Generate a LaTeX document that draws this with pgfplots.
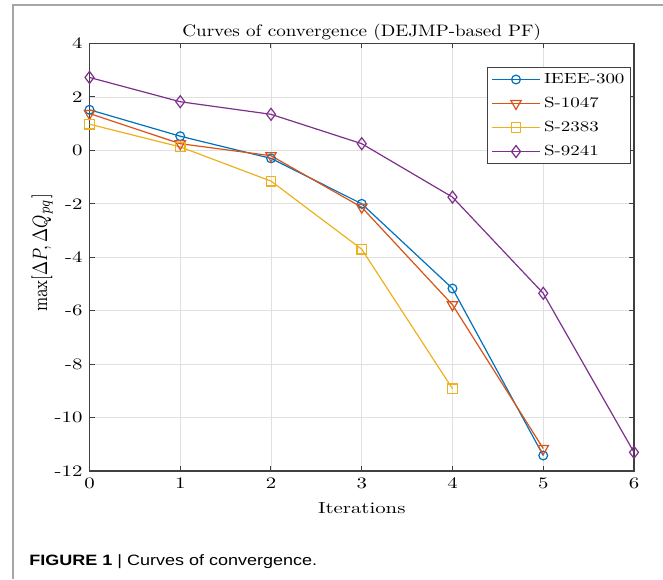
\documentclass[border=0pt]{standalone}
\usepackage[no-math]{fontspec}
\usepackage{pgfplots}
\pgfplotsset{compat=1.18}
% the reference is stretched sideways, so the fonts are too
\setmainfont{lmroman10-regular.otf}[FakeStretch=1.3,
    BoldFont=lmroman10-bold.otf, ItalicFont=lmroman10-italic.otf]
\newfontfamily\titlefont{lmroman10-regular.otf}[FakeStretch=1.15]
\newfontfamily\capfont{Liberation Sans}[FakeStretch=1.2]

% MATLAB default line colours
\definecolor{mblue}{rgb}{0,0.447,0.741}
\definecolor{morange}{rgb}{0.85,0.325,0.098}
\definecolor{myellow}{rgb}{0.929,0.694,0.125}
\definecolor{mpurple}{rgb}{0.494,0.184,0.556}

\begin{document}
\begin{tikzpicture}
\useasboundingbox (0,0) rectangle (331.5pt,289.5pt);
\draw[black!35, line width=1pt] (6.35pt,0) -- (6.35pt,287pt) -- (331.5pt,287pt);
\begin{axis}[
    at={(44.75pt,54pt)}, anchor=south west,
    scale only axis,
    width=272.25pt, height=213.75pt,
    xmin=0, xmax=6, ymin=-12, ymax=4,
    xtick={0,...,6}, ytick={-12,-10,...,4},
    grid=major,
    major grid style={black!12, line width=0.4pt},
    axis line style={black!75, line width=0.6pt},
    tick style={black!75, line width=0.5pt},
    tick align=inside, major tick length=2.5pt,
    /pgf/number format/assume math mode=true,
    tick label style={font=\fontsize{8}{10}\selectfont},
    title={Curves of convergence (DEJMP-based PF)},
    title style={font=\titlefont\fontsize{8.3}{10}\selectfont, at={(0.5,1)}, anchor=base, yshift=-2.5pt, inner sep=0pt},
    xlabel={Iterations},
    xlabel style={font=\fontsize{8}{10}\selectfont},
    ylabel={$\max[\Delta P, \Delta Q_{pq}]$},
    ylabel style={font=\fontsize{8}{10}\selectfont, at={(axis description cs:-0.087,0.51)}, anchor=center, yscale=1.3},
    every axis plot/.append style={line width=0.6pt, mark size=2.2pt, mark options={solid}},
    legend style={at={(1,1)}, anchor=north east, xshift=-1.5pt, yshift=-11.75pt,
        draw=black!75, line width=0.5pt, font=\fontsize{7.3}{8}\selectfont,
        row sep=3pt, inner sep=1.5pt,
        nodes={text height=5pt, text depth=1pt, inner sep=1.5pt}},
    legend cell align=left,
    legend image code/.code={
        \draw[mark repeat=2, mark phase=2] plot coordinates {(0cm,0cm) (0.43cm,0cm) (0.86cm,0cm)};},
]
\addplot[color=mblue, mark=o] coordinates {
    (0,1.52) (1,0.53) (2,-0.3) (3,-2.0) (4,-5.17) (5,-11.42)};
\addplot[color=morange, mark=triangle, mark size=3pt, mark options={rotate=180}] coordinates {
    (0,1.38) (1,0.25) (2,-0.2) (3,-2.13) (4,-5.78) (5,-11.16)};
\addplot[color=myellow, mark=square, mark size=2.4pt] coordinates {
    (0,0.98) (1,0.13) (2,-1.15) (3,-3.7) (4,-8.92)};
\addplot[color=mpurple, mark=diamond, mark size=3pt] coordinates {
    (0,2.73) (1,1.82) (2,1.35) (3,0.25) (4,-1.75) (5,-5.35) (6,-11.3)};
\legend{IEEE-300, S-1047, S-2383, S-9241}
\end{axis}
\node[anchor=base west, inner sep=0pt, font=\capfont\fontsize{7.5}{9}\selectfont] at (14.5pt,7pt)
    {\textbf{FIGURE 1} | Curves of convergence.};
\end{tikzpicture}
\end{document}
